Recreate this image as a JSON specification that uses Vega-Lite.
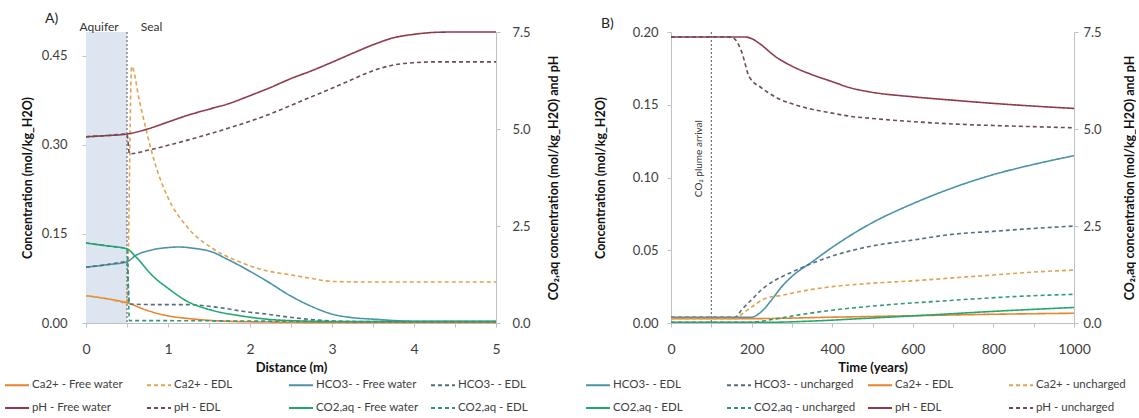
{
  "$schema": "https://vega.github.io/schema/vega-lite/v6.json",
  "padding": {"left": 10, "top": 12, "right": 0, "bottom": 0},
  "spacing": 31,
  "datasets": {
    "a": [
      {"s": "Ca2+ - Free water", "ax": "L", "x": 0, "v": 0.046},
      {"s": "Ca2+ - Free water", "ax": "L", "x": 0.25, "v": 0.041},
      {"s": "Ca2+ - Free water", "ax": "L", "x": 0.5, "v": 0.034},
      {"s": "Ca2+ - Free water", "ax": "L", "x": 0.75, "v": 0.021},
      {"s": "Ca2+ - Free water", "ax": "L", "x": 1, "v": 0.012},
      {"s": "Ca2+ - Free water", "ax": "L", "x": 1.25, "v": 0.0075},
      {"s": "Ca2+ - Free water", "ax": "L", "x": 1.5, "v": 0.0045},
      {"s": "Ca2+ - Free water", "ax": "L", "x": 2, "v": 0.002},
      {"s": "Ca2+ - Free water", "ax": "L", "x": 3, "v": 0.001},
      {"s": "Ca2+ - Free water", "ax": "L", "x": 5, "v": 0.001},
      {"s": "Ca2+ - EDL", "ax": "L", "x": 0, "v": 0.046},
      {"s": "Ca2+ - EDL", "ax": "L", "x": 0.25, "v": 0.041},
      {"s": "Ca2+ - EDL", "ax": "L", "x": 0.5, "v": 0.034},
      {"s": "Ca2+ - EDL", "ax": "L", "x": 0.557, "v": 0.432},
      {"s": "Ca2+ - EDL", "ax": "L", "x": 0.65, "v": 0.375},
      {"s": "Ca2+ - EDL", "ax": "L", "x": 0.73, "v": 0.327},
      {"s": "Ca2+ - EDL", "ax": "L", "x": 0.85, "v": 0.265},
      {"s": "Ca2+ - EDL", "ax": "L", "x": 1, "v": 0.211},
      {"s": "Ca2+ - EDL", "ax": "L", "x": 1.22, "v": 0.164},
      {"s": "Ca2+ - EDL", "ax": "L", "x": 1.55, "v": 0.125},
      {"s": "Ca2+ - EDL", "ax": "L", "x": 1.87, "v": 0.103},
      {"s": "Ca2+ - EDL", "ax": "L", "x": 2.2, "v": 0.088},
      {"s": "Ca2+ - EDL", "ax": "L", "x": 2.5, "v": 0.081},
      {"s": "Ca2+ - EDL", "ax": "L", "x": 2.75, "v": 0.075},
      {"s": "Ca2+ - EDL", "ax": "L", "x": 3, "v": 0.07},
      {"s": "Ca2+ - EDL", "ax": "L", "x": 3.5, "v": 0.069},
      {"s": "Ca2+ - EDL", "ax": "L", "x": 5, "v": 0.069},
      {"s": "HCO3- - Free water", "ax": "L", "x": 0, "v": 0.094},
      {"s": "HCO3- - Free water", "ax": "L", "x": 0.25, "v": 0.098},
      {"s": "HCO3- - Free water", "ax": "L", "x": 0.5, "v": 0.103},
      {"s": "HCO3- - Free water", "ax": "L", "x": 0.61, "v": 0.114},
      {"s": "HCO3- - Free water", "ax": "L", "x": 0.8, "v": 0.123},
      {"s": "HCO3- - Free water", "ax": "L", "x": 1, "v": 0.127},
      {"s": "HCO3- - Free water", "ax": "L", "x": 1.13, "v": 0.128},
      {"s": "HCO3- - Free water", "ax": "L", "x": 1.3, "v": 0.126},
      {"s": "HCO3- - Free water", "ax": "L", "x": 1.55, "v": 0.119},
      {"s": "HCO3- - Free water", "ax": "L", "x": 1.7, "v": 0.109},
      {"s": "HCO3- - Free water", "ax": "L", "x": 1.87, "v": 0.097},
      {"s": "HCO3- - Free water", "ax": "L", "x": 2, "v": 0.087},
      {"s": "HCO3- - Free water", "ax": "L", "x": 2.2, "v": 0.071},
      {"s": "HCO3- - Free water", "ax": "L", "x": 2.49, "v": 0.046},
      {"s": "HCO3- - Free water", "ax": "L", "x": 2.75, "v": 0.028},
      {"s": "HCO3- - Free water", "ax": "L", "x": 3, "v": 0.015},
      {"s": "HCO3- - Free water", "ax": "L", "x": 3.25, "v": 0.009},
      {"s": "HCO3- - Free water", "ax": "L", "x": 3.5, "v": 0.0065},
      {"s": "HCO3- - Free water", "ax": "L", "x": 4, "v": 0.003},
      {"s": "HCO3- - Free water", "ax": "L", "x": 5, "v": 0.003},
      {"s": "HCO3- - EDL", "ax": "L", "x": 0, "v": 0.094},
      {"s": "HCO3- - EDL", "ax": "L", "x": 0.25, "v": 0.098},
      {"s": "HCO3- - EDL", "ax": "L", "x": 0.5, "v": 0.103},
      {"s": "HCO3- - EDL", "ax": "L", "x": 0.53, "v": 0.032},
      {"s": "HCO3- - EDL", "ax": "L", "x": 0.8, "v": 0.031},
      {"s": "HCO3- - EDL", "ax": "L", "x": 1.22, "v": 0.031},
      {"s": "HCO3- - EDL", "ax": "L", "x": 1.62, "v": 0.026},
      {"s": "HCO3- - EDL", "ax": "L", "x": 2, "v": 0.018},
      {"s": "HCO3- - EDL", "ax": "L", "x": 2.2, "v": 0.015},
      {"s": "HCO3- - EDL", "ax": "L", "x": 2.49, "v": 0.0096},
      {"s": "HCO3- - EDL", "ax": "L", "x": 3, "v": 0.0034},
      {"s": "HCO3- - EDL", "ax": "L", "x": 3.5, "v": 0.002},
      {"s": "HCO3- - EDL", "ax": "L", "x": 5, "v": 0.002},
      {"s": "pH - Free water", "ax": "R", "x": 0, "v": 4.8},
      {"s": "pH - Free water", "ax": "R", "x": 0.25, "v": 4.83},
      {"s": "pH - Free water", "ax": "R", "x": 0.5, "v": 4.87},
      {"s": "pH - Free water", "ax": "R", "x": 0.75, "v": 5.0},
      {"s": "pH - Free water", "ax": "R", "x": 1, "v": 5.18},
      {"s": "pH - Free water", "ax": "R", "x": 1.25, "v": 5.36},
      {"s": "pH - Free water", "ax": "R", "x": 1.5, "v": 5.51},
      {"s": "pH - Free water", "ax": "R", "x": 1.75, "v": 5.66},
      {"s": "pH - Free water", "ax": "R", "x": 2, "v": 5.86},
      {"s": "pH - Free water", "ax": "R", "x": 2.25, "v": 6.07},
      {"s": "pH - Free water", "ax": "R", "x": 2.5, "v": 6.3},
      {"s": "pH - Free water", "ax": "R", "x": 2.75, "v": 6.5},
      {"s": "pH - Free water", "ax": "R", "x": 3, "v": 6.72},
      {"s": "pH - Free water", "ax": "R", "x": 3.25, "v": 6.95},
      {"s": "pH - Free water", "ax": "R", "x": 3.5, "v": 7.17},
      {"s": "pH - Free water", "ax": "R", "x": 3.75, "v": 7.35},
      {"s": "pH - Free water", "ax": "R", "x": 4, "v": 7.44},
      {"s": "pH - Free water", "ax": "R", "x": 4.25, "v": 7.49},
      {"s": "pH - Free water", "ax": "R", "x": 4.5, "v": 7.5},
      {"s": "pH - Free water", "ax": "R", "x": 5, "v": 7.5},
      {"s": "pH - EDL", "ax": "R", "x": 0, "v": 4.8},
      {"s": "pH - EDL", "ax": "R", "x": 0.25, "v": 4.83},
      {"s": "pH - EDL", "ax": "R", "x": 0.5, "v": 4.87},
      {"s": "pH - EDL", "ax": "R", "x": 0.53, "v": 4.36},
      {"s": "pH - EDL", "ax": "R", "x": 0.75, "v": 4.45},
      {"s": "pH - EDL", "ax": "R", "x": 1, "v": 4.58},
      {"s": "pH - EDL", "ax": "R", "x": 1.25, "v": 4.72},
      {"s": "pH - EDL", "ax": "R", "x": 1.5, "v": 4.87},
      {"s": "pH - EDL", "ax": "R", "x": 1.75, "v": 5.03},
      {"s": "pH - EDL", "ax": "R", "x": 2, "v": 5.2},
      {"s": "pH - EDL", "ax": "R", "x": 2.25, "v": 5.39},
      {"s": "pH - EDL", "ax": "R", "x": 2.5, "v": 5.61},
      {"s": "pH - EDL", "ax": "R", "x": 2.75, "v": 5.83},
      {"s": "pH - EDL", "ax": "R", "x": 3, "v": 6.05},
      {"s": "pH - EDL", "ax": "R", "x": 3.25, "v": 6.28},
      {"s": "pH - EDL", "ax": "R", "x": 3.5, "v": 6.5},
      {"s": "pH - EDL", "ax": "R", "x": 3.75, "v": 6.65},
      {"s": "pH - EDL", "ax": "R", "x": 4, "v": 6.71},
      {"s": "pH - EDL", "ax": "R", "x": 4.25, "v": 6.73},
      {"s": "pH - EDL", "ax": "R", "x": 5, "v": 6.73},
      {"s": "CO2,aq - Free water", "ax": "R", "x": 0, "v": 2.06},
      {"s": "CO2,aq - Free water", "ax": "R", "x": 0.25, "v": 1.99},
      {"s": "CO2,aq - Free water", "ax": "R", "x": 0.5, "v": 1.91},
      {"s": "CO2,aq - Free water", "ax": "R", "x": 0.61, "v": 1.7},
      {"s": "CO2,aq - Free water", "ax": "R", "x": 0.81, "v": 1.22},
      {"s": "CO2,aq - Free water", "ax": "R", "x": 1.01, "v": 0.88},
      {"s": "CO2,aq - Free water", "ax": "R", "x": 1.22, "v": 0.575},
      {"s": "CO2,aq - Free water", "ax": "R", "x": 1.55, "v": 0.32},
      {"s": "CO2,aq - Free water", "ax": "R", "x": 1.87, "v": 0.19},
      {"s": "CO2,aq - Free water", "ax": "R", "x": 2.2, "v": 0.1},
      {"s": "CO2,aq - Free water", "ax": "R", "x": 2.5, "v": 0.06},
      {"s": "CO2,aq - Free water", "ax": "R", "x": 3, "v": 0.04},
      {"s": "CO2,aq - Free water", "ax": "R", "x": 5, "v": 0.04},
      {"s": "CO2,aq - EDL", "ax": "R", "x": 0, "v": 2.06},
      {"s": "CO2,aq - EDL", "ax": "R", "x": 0.25, "v": 1.99},
      {"s": "CO2,aq - EDL", "ax": "R", "x": 0.5, "v": 1.91},
      {"s": "CO2,aq - EDL", "ax": "R", "x": 0.53, "v": 0.06},
      {"s": "CO2,aq - EDL", "ax": "R", "x": 1, "v": 0.06},
      {"s": "CO2,aq - EDL", "ax": "R", "x": 2, "v": 0.05},
      {"s": "CO2,aq - EDL", "ax": "R", "x": 3, "v": 0.04},
      {"s": "CO2,aq - EDL", "ax": "R", "x": 5, "v": 0.04}
    ],
    "b": [
      {"s": "HCO3- - EDL", "ax": "L", "x": 0, "v": 0.004},
      {"s": "HCO3- - EDL", "ax": "L", "x": 200, "v": 0.004},
      {"s": "HCO3- - EDL", "ax": "L", "x": 225, "v": 0.008},
      {"s": "HCO3- - EDL", "ax": "L", "x": 250, "v": 0.016},
      {"s": "HCO3- - EDL", "ax": "L", "x": 275, "v": 0.025},
      {"s": "HCO3- - EDL", "ax": "L", "x": 300, "v": 0.032},
      {"s": "HCO3- - EDL", "ax": "L", "x": 350, "v": 0.042},
      {"s": "HCO3- - EDL", "ax": "L", "x": 400, "v": 0.052},
      {"s": "HCO3- - EDL", "ax": "L", "x": 450, "v": 0.061},
      {"s": "HCO3- - EDL", "ax": "L", "x": 500, "v": 0.069},
      {"s": "HCO3- - EDL", "ax": "L", "x": 600, "v": 0.082},
      {"s": "HCO3- - EDL", "ax": "L", "x": 700, "v": 0.093},
      {"s": "HCO3- - EDL", "ax": "L", "x": 800, "v": 0.102},
      {"s": "HCO3- - EDL", "ax": "L", "x": 900, "v": 0.109},
      {"s": "HCO3- - EDL", "ax": "L", "x": 1000, "v": 0.115},
      {"s": "HCO3- - uncharged", "ax": "L", "x": 0, "v": 0.004},
      {"s": "HCO3- - uncharged", "ax": "L", "x": 160, "v": 0.004},
      {"s": "HCO3- - uncharged", "ax": "L", "x": 175, "v": 0.009},
      {"s": "HCO3- - uncharged", "ax": "L", "x": 200, "v": 0.016},
      {"s": "HCO3- - uncharged", "ax": "L", "x": 225, "v": 0.023},
      {"s": "HCO3- - uncharged", "ax": "L", "x": 250, "v": 0.028},
      {"s": "HCO3- - uncharged", "ax": "L", "x": 300, "v": 0.035},
      {"s": "HCO3- - uncharged", "ax": "L", "x": 350, "v": 0.041},
      {"s": "HCO3- - uncharged", "ax": "L", "x": 400, "v": 0.046},
      {"s": "HCO3- - uncharged", "ax": "L", "x": 500, "v": 0.053},
      {"s": "HCO3- - uncharged", "ax": "L", "x": 600, "v": 0.057},
      {"s": "HCO3- - uncharged", "ax": "L", "x": 700, "v": 0.061},
      {"s": "HCO3- - uncharged", "ax": "L", "x": 800, "v": 0.063},
      {"s": "HCO3- - uncharged", "ax": "L", "x": 900, "v": 0.065},
      {"s": "HCO3- - uncharged", "ax": "L", "x": 1000, "v": 0.0666},
      {"s": "Ca2+ - EDL", "ax": "L", "x": 0, "v": 0.003},
      {"s": "Ca2+ - EDL", "ax": "L", "x": 200, "v": 0.003},
      {"s": "Ca2+ - EDL", "ax": "L", "x": 400, "v": 0.004},
      {"s": "Ca2+ - EDL", "ax": "L", "x": 600, "v": 0.005},
      {"s": "Ca2+ - EDL", "ax": "L", "x": 800, "v": 0.006},
      {"s": "Ca2+ - EDL", "ax": "L", "x": 1000, "v": 0.0067},
      {"s": "Ca2+ - uncharged", "ax": "L", "x": 0, "v": 0.003},
      {"s": "Ca2+ - uncharged", "ax": "L", "x": 160, "v": 0.003},
      {"s": "Ca2+ - uncharged", "ax": "L", "x": 180, "v": 0.007},
      {"s": "Ca2+ - uncharged", "ax": "L", "x": 200, "v": 0.011},
      {"s": "Ca2+ - uncharged", "ax": "L", "x": 235, "v": 0.017},
      {"s": "Ca2+ - uncharged", "ax": "L", "x": 275, "v": 0.019},
      {"s": "Ca2+ - uncharged", "ax": "L", "x": 318, "v": 0.0215},
      {"s": "Ca2+ - uncharged", "ax": "L", "x": 400, "v": 0.025},
      {"s": "Ca2+ - uncharged", "ax": "L", "x": 483, "v": 0.027},
      {"s": "Ca2+ - uncharged", "ax": "L", "x": 600, "v": 0.029},
      {"s": "Ca2+ - uncharged", "ax": "L", "x": 700, "v": 0.031},
      {"s": "Ca2+ - uncharged", "ax": "L", "x": 800, "v": 0.033},
      {"s": "Ca2+ - uncharged", "ax": "L", "x": 900, "v": 0.035},
      {"s": "Ca2+ - uncharged", "ax": "L", "x": 1000, "v": 0.0364},
      {"s": "CO2,aq - EDL", "ax": "R", "x": 0, "v": 0.02},
      {"s": "CO2,aq - EDL", "ax": "R", "x": 250, "v": 0.02},
      {"s": "CO2,aq - EDL", "ax": "R", "x": 350, "v": 0.05},
      {"s": "CO2,aq - EDL", "ax": "R", "x": 483, "v": 0.12},
      {"s": "CO2,aq - EDL", "ax": "R", "x": 648, "v": 0.21},
      {"s": "CO2,aq - EDL", "ax": "R", "x": 800, "v": 0.3},
      {"s": "CO2,aq - EDL", "ax": "R", "x": 1000, "v": 0.4},
      {"s": "CO2,aq - uncharged", "ax": "R", "x": 0, "v": 0.02},
      {"s": "CO2,aq - uncharged", "ax": "R", "x": 200, "v": 0.02},
      {"s": "CO2,aq - uncharged", "ax": "R", "x": 250, "v": 0.09},
      {"s": "CO2,aq - uncharged", "ax": "R", "x": 318, "v": 0.21},
      {"s": "CO2,aq - uncharged", "ax": "R", "x": 400, "v": 0.33},
      {"s": "CO2,aq - uncharged", "ax": "R", "x": 483, "v": 0.42},
      {"s": "CO2,aq - uncharged", "ax": "R", "x": 550, "v": 0.48},
      {"s": "CO2,aq - uncharged", "ax": "R", "x": 648, "v": 0.55},
      {"s": "CO2,aq - uncharged", "ax": "R", "x": 750, "v": 0.62},
      {"s": "CO2,aq - uncharged", "ax": "R", "x": 850, "v": 0.68},
      {"s": "CO2,aq - uncharged", "ax": "R", "x": 1000, "v": 0.74},
      {"s": "pH - EDL", "ax": "R", "x": 0, "v": 7.37},
      {"s": "pH - EDL", "ax": "R", "x": 185, "v": 7.37},
      {"s": "pH - EDL", "ax": "R", "x": 200, "v": 7.33},
      {"s": "pH - EDL", "ax": "R", "x": 220, "v": 7.2},
      {"s": "pH - EDL", "ax": "R", "x": 260, "v": 6.86},
      {"s": "pH - EDL", "ax": "R", "x": 300, "v": 6.62},
      {"s": "pH - EDL", "ax": "R", "x": 350, "v": 6.4},
      {"s": "pH - EDL", "ax": "R", "x": 400, "v": 6.22},
      {"s": "pH - EDL", "ax": "R", "x": 442, "v": 6.07},
      {"s": "pH - EDL", "ax": "R", "x": 491, "v": 5.96},
      {"s": "pH - EDL", "ax": "R", "x": 600, "v": 5.83},
      {"s": "pH - EDL", "ax": "R", "x": 690, "v": 5.75},
      {"s": "pH - EDL", "ax": "R", "x": 800, "v": 5.66},
      {"s": "pH - EDL", "ax": "R", "x": 900, "v": 5.59},
      {"s": "pH - EDL", "ax": "R", "x": 1000, "v": 5.53},
      {"s": "pH - uncharged", "ax": "R", "x": 0, "v": 7.37},
      {"s": "pH - uncharged", "ax": "R", "x": 150, "v": 7.37},
      {"s": "pH - uncharged", "ax": "R", "x": 160, "v": 7.3},
      {"s": "pH - uncharged", "ax": "R", "x": 175, "v": 7.0},
      {"s": "pH - uncharged", "ax": "R", "x": 194, "v": 6.35},
      {"s": "pH - uncharged", "ax": "R", "x": 226, "v": 6.05},
      {"s": "pH - uncharged", "ax": "R", "x": 260, "v": 5.82},
      {"s": "pH - uncharged", "ax": "R", "x": 326, "v": 5.57},
      {"s": "pH - uncharged", "ax": "R", "x": 400, "v": 5.41},
      {"s": "pH - uncharged", "ax": "R", "x": 442, "v": 5.33},
      {"s": "pH - uncharged", "ax": "R", "x": 491, "v": 5.28},
      {"s": "pH - uncharged", "ax": "R", "x": 600, "v": 5.19},
      {"s": "pH - uncharged", "ax": "R", "x": 700, "v": 5.13},
      {"s": "pH - uncharged", "ax": "R", "x": 800, "v": 5.09},
      {"s": "pH - uncharged", "ax": "R", "x": 900, "v": 5.06},
      {"s": "pH - uncharged", "ax": "R", "x": 1000, "v": 5.03}
    ],
    "aBand": [{"x0": 0, "x1": 0.5}],
    "aLab": [{"x": 0.16, "label": "Aquifer"}, {"x": 0.8, "label": "Seal"}],
    "bLine": [{"x": 100}],
    "bLab": [{"x": 70, "y": 0.113, "label": "CO₂ plume arrival"}]
  },
  "hconcat": [
    {
      "width": 410,
      "height": 291,
      "title": {"text": "A)", "anchor": "start", "frame": "group", "dx": -41, "fontSize": 14, "fontWeight": "normal", "color": "#222", "offset": -5},
      "layer": [
        {
          "layer": [
            {
              "data": {"name": "aBand"},
              "mark": {"type": "rect", "color": "#dde6f0"},
              "encoding": {
                "x": {"field": "x0", "type": "quantitative"},
                "x2": {"field": "x1"}
              }
            },
            {
              "data": {"name": "aBand"},
              "mark": {"type": "rule", "color": "#555", "strokeDash": [2, 2], "strokeWidth": 1},
              "encoding": {"x": {"field": "x1", "type": "quantitative"}}
            },
            {
              "data": {"name": "aLab"},
              "mark": {"type": "text", "fontSize": 12, "color": "#333", "dy": -5, "baseline": "middle"},
              "encoding": {
                "x": {"field": "x", "type": "quantitative"},
                "y": {"datum": 0.49},
                "text": {"field": "label"}
              }
            },
            {
              "data": {"name": "a"},
              "transform": [{"filter": "datum.ax === 'L'"}],
              "mark": {"type": "line", "interpolate": "monotone", "strokeWidth": 1.6},
              "encoding": {
                "x": {"field": "x", "type": "quantitative", "scale": {"domain": [0, 5], "nice": false},
                  "axis": {"title": "Distance (m)", "values": [0, 0.5, 1, 1.5, 2, 2.5, 3, 3.5, 4, 4.5, 5], "format": ".1f", "labelExpr": "datum.value % 1 === 0 ? format(datum.value, 'd') : ''", "labelFlush": false, "labelPadding": 15, "titlePadding": 5, "labelFontSize": 14, "titleFontSize": 13}},
                "y": {"field": "v", "type": "quantitative", "scale": {"domain": [0, 0.49], "nice": false},
                  "axis": {"title": "Concentration (mol/kg_H2O)", "values": [0, 0.15, 0.3, 0.45], "format": ".2f", "labelPadding": 15, "titlePadding": 7}},
                "color": {"field": "s", "type": "nominal",
                  "scale": {"domain": ["Ca2+ - Free water", "Ca2+ - EDL", "HCO3- - Free water", "HCO3- - EDL", "pH - Free water", "pH - EDL", "CO2,aq - Free water", "CO2,aq - EDL"],
                    "range": ["#E8832E", "#E2A250", "#4B93A8", "#52707F", "#8E3A4A", "#6E4A5A", "#22A86E", "#2F9A78"]},
                  "legend": {"title": null, "orient": "none", "direction": "horizontal", "legendX": -76, "legendY": 346, "columns": 4}},
                "strokeDash": {"field": "s", "type": "nominal",
                  "scale": {"domain": ["Ca2+ - Free water", "Ca2+ - EDL", "HCO3- - Free water", "HCO3- - EDL", "pH - Free water", "pH - EDL", "CO2,aq - Free water", "CO2,aq - EDL"],
                    "range": [[1, 0], [4, 3], [1, 0], [4, 3], [1, 0], [4, 3], [1, 0], [4, 3]]},
                  "legend": {"title": null, "orient": "none", "direction": "horizontal", "legendX": -76, "legendY": 346, "columns": 4}}
              }
            }
          ]
        },
        {
          "data": {"name": "a"},
          "transform": [{"filter": "datum.ax === 'R'"}],
          "mark": {"type": "line", "interpolate": "monotone", "strokeWidth": 1.6},
          "encoding": {
            "x": {"field": "x", "type": "quantitative"},
            "y": {"field": "v", "type": "quantitative", "scale": {"domain": [0, 7.5], "nice": false},
              "axis": {"orient": "right", "title": "CO₂,aq concentration (mol/kg_H2O) and pH", "titleAngle": 270, "values": [0, 2.5, 5, 7.5], "format": ".1f", "labelPadding": 12, "titlePadding": 30}},
            "color": {"field": "s", "type": "nominal", "legend": {"title": null, "orient": "none", "direction": "horizontal", "legendX": -76, "legendY": 346, "columns": 4}},
            "strokeDash": {"field": "s", "type": "nominal", "legend": {"title": null, "orient": "none", "direction": "horizontal", "legendX": -76, "legendY": 346, "columns": 4}}
          }
        }
      ],
      "resolve": {"scale": {"y": "independent"}}
    },
    {
      "width": 403,
      "height": 291,
      "title": {"text": "B)", "anchor": "start", "frame": "group", "dx": -70, "fontSize": 14, "fontWeight": "normal", "color": "#222", "offset": -5},
      "layer": [
        {
          "layer": [
            {
              "data": {"name": "bLine"},
              "mark": {"type": "rule", "color": "#555", "strokeDash": [2, 2], "strokeWidth": 1},
              "encoding": {"x": {"field": "x", "type": "quantitative"}}
            },
            {
              "data": {"name": "bLab"},
              "mark": {"type": "text", "fontSize": 10, "color": "#333", "angle": 270, "baseline": "middle", "align": "center"},
              "encoding": {
                "x": {"field": "x", "type": "quantitative"},
                "y": {"field": "y", "type": "quantitative"},
                "text": {"field": "label"}
              }
            },
            {
              "data": {"name": "b"},
              "transform": [{"filter": "datum.ax === 'L'"}],
              "mark": {"type": "line", "interpolate": "monotone", "strokeWidth": 1.6},
              "encoding": {
                "x": {"field": "x", "type": "quantitative", "scale": {"domain": [0, 1000], "nice": false},
                  "axis": {"title": "Time (years)", "values": [0, 50, 100, 150, 200, 250, 300, 350, 400, 450, 500, 550, 600, 650, 700, 750, 800, 850, 900, 950, 1000], "format": "d", "labelExpr": "datum.value % 200 === 0 ? datum.label : ''", "labelFlush": false, "labelPadding": 15, "titlePadding": 5, "labelFontSize": 14, "titleFontSize": 13}},
                "y": {"field": "v", "type": "quantitative", "scale": {"domain": [0, 0.2], "nice": false},
                  "axis": {"title": "Concentration (mol/kg_H2O)", "values": [0, 0.05, 0.1, 0.15, 0.2], "format": ".2f", "labelPadding": 9, "titlePadding": 25}},
                "color": {"field": "s", "type": "nominal",
                  "scale": {"domain": ["HCO3- - EDL", "HCO3- - uncharged", "Ca2+ - EDL", "Ca2+ - uncharged", "CO2,aq - EDL", "CO2,aq - uncharged", "pH - EDL", "pH - uncharged"],
                    "range": ["#4B93A8", "#52707F", "#E8832E", "#E2A250", "#22A86E", "#2F9A78", "#8E3A4A", "#6E4A5A"]},
                  "legend": {"title": null, "orient": "none", "direction": "horizontal", "legendX": -80, "legendY": 346, "columns": 4}},
                "strokeDash": {"field": "s", "type": "nominal",
                  "scale": {"domain": ["HCO3- - EDL", "HCO3- - uncharged", "Ca2+ - EDL", "Ca2+ - uncharged", "CO2,aq - EDL", "CO2,aq - uncharged", "pH - EDL", "pH - uncharged"],
                    "range": [[1, 0], [4, 3], [1, 0], [4, 3], [1, 0], [4, 3], [1, 0], [4, 3]]},
                  "legend": {"title": null, "orient": "none", "direction": "horizontal", "legendX": -80, "legendY": 346, "columns": 4}}
              }
            }
          ]
        },
        {
          "data": {"name": "b"},
          "transform": [{"filter": "datum.ax === 'R'"}],
          "mark": {"type": "line", "interpolate": "monotone", "strokeWidth": 1.6},
          "encoding": {
            "x": {"field": "x", "type": "quantitative"},
            "y": {"field": "v", "type": "quantitative", "scale": {"domain": [0, 7.5], "nice": false},
              "axis": {"orient": "right", "title": "CO₂,aq concentration (mol/kg_H2O) and pH", "titleAngle": 270, "values": [0, 2.5, 5, 7.5], "format": ".1f", "labelPadding": 5, "titlePadding": 35}},
            "color": {"field": "s", "type": "nominal", "legend": {"title": null, "orient": "none", "direction": "horizontal", "legendX": -80, "legendY": 346, "columns": 4}},
            "strokeDash": {"field": "s", "type": "nominal", "legend": {"title": null, "orient": "none", "direction": "horizontal", "legendX": -80, "legendY": 346, "columns": 4}}
          }
        }
      ],
      "resolve": {"scale": {"y": "independent"}}
    }
  ],
  "resolve": {"scale": {"color": "independent", "strokeDash": "independent"}},
  "config": {
    "font": "Lato",
    "background": "white",
    "view": {"stroke": null},
    "title": {"font": "Lato"},
    "axis": {"grid": false, "domainColor": "#c0c0c0", "tickColor": "#c0c0c0", "tickSize": 4, "labelColor": "#404040", "labelFontSize": 13, "labelFont": "Lato", "titleFont": "Lato", "titleColor": "#111", "titleFontSize": 12.5, "titleFontWeight": "bold"},
    "legend": {"labelFont": "Lato", "labelFontSize": 11.5, "labelColor": "#404040", "symbolType": "M-2,0H2", "symbolStrokeWidth": 2, "symbolSize": 144, "labelOffset": 8, "columnPadding": 8, "rowPadding": 10, "gridAlign": "all", "labelLimit": 200}
  }
}
